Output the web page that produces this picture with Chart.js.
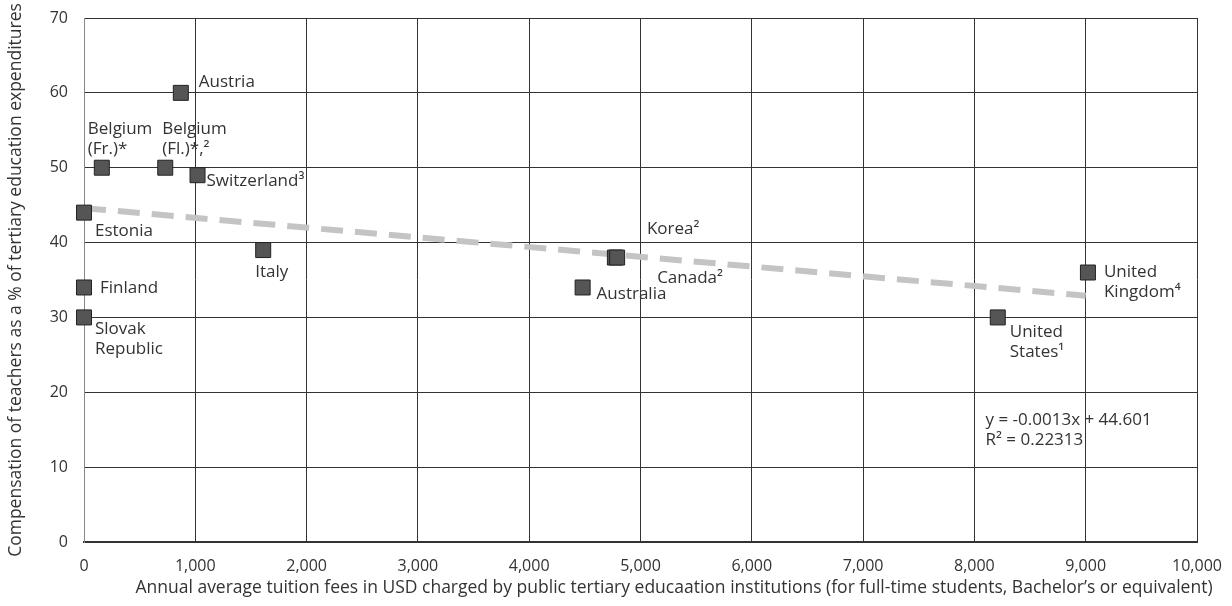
<!DOCTYPE html>
<html>
<head>
<meta charset="utf-8">
<script src="https://cdn.jsdelivr.net/npm/chart.js@4/dist/chart.umd.min.js"></script>
<style>
  html, body { margin: 0; padding: 0; background: #fff; }
  #wrap { width: 1232px; height: 606px; }
</style>
</head>
<body>
<div id="wrap"><canvas id="chart" width="1232" height="606"></canvas></div>
<script>
const FONT = '"Open Sans", Lato, sans-serif';

// data
const countries = [
  'Austria', 'Belgium\n(Fr.)*', 'Belgium\n(Fl.)*,²', 'Switzerland³', 'Estonia', 'Italy',
  'Finland', 'Slovak\nRepublic', 'Korea²', 'Canada²', 'Australia', 'United\nStates¹', 'United\nKingdom⁴',
];
const tuitionFees = [870, 160, 730, 1020, 0, 1610, 0, 0, 4770, 4790, 4480, 8210, 9020];
const teacherShare = [60, 50, 50, 49, 44, 39, 34, 30, 38, 38, 34, 30, 36];

const trendX = [0, 9000];
const trendY = [44.6, 32.9];
const equationLines = ['y = -0.0013x + 44.601', 'R² = 0.22313'];

const xTicks = [0, 1000, 2000, 3000, 4000, 5000, 6000, 7000, 8000, 9000, 10000];
const yTicks = [0, 10, 20, 30, 40, 50, 60, 70];

const xTitle = 'Annual average tuition fees in USD charged by public tertiary educaation institutions (for full-time students, Bachelor’s or equivalent)';

// label placement relative to each marker (px)
const labelOffsets = [
  [18, -11], [-14, -39], [-3, -39], [9, 6], [11, 19], [-8, 22],
  [16, 1], [11, 12], [32, -28], [40, 21], [14, 7], [12, 15], [16, 0],
];

const pointLabels = {
  id: 'pointLabels',
  afterDatasetsDraw(chart) {
    const { ctx } = chart;
    const meta = chart.getDatasetMeta(1);
    ctx.save();
    ctx.font = '17px ' + FONT;
    ctx.fillStyle = '#333';
    ctx.textAlign = 'left';
    ctx.textBaseline = 'middle';
    meta.data.forEach((pt, i) => {
      const [dx, dy] = labelOffsets[i];
      countries[i].split('\n').forEach((line, j) => {
        ctx.fillText(line, pt.x + dx, pt.y + dy + j * 20);
      });
    });
    const x = chart.scales.x.getPixelForValue(8100);
    const y = chart.scales.y.getPixelForValue(16.3);
    equationLines.forEach((line, j) => ctx.fillText(line, x, y + j * 20));

    // x axis title, centred a little right of the plot centre as in the source
    ctx.font = '17.5px ' + FONT;
    ctx.textAlign = 'center';
    ctx.fillText(xTitle, 674, chart.height - 18);
    ctx.restore();
  },
};

new Chart(document.getElementById('chart'), {
  data: {
    datasets: [
      {
        type: 'line',
        data: trendX.map((x, i) => ({ x, y: trendY[i] })),
        borderColor: '#c4c4c4',
        borderWidth: 6,
        borderDash: [22, 12],
        pointRadius: 0,
        order: 2,
      },
      {
        type: 'scatter',
        data: tuitionFees.map((x, i) => ({ x, y: teacherShare[i] })),
        pointStyle: 'rect',
        pointRadius: 10.6,
        backgroundColor: '#555',
        borderColor: '#222',
        borderWidth: 1,
        clip: false,
        order: 1,
      },
    ],
  },
  options: {
    responsive: false,
    animation: false,
    layout: { padding: { top: 18, right: 35, bottom: 0, left: 0 } },
    plugins: { legend: { display: false }, tooltip: { enabled: false } },
    scales: {
      x: {
        type: 'linear',
        min: 0,
        max: 10000,
        afterBuildTicks(scale) { scale.ticks = xTicks.map(value => ({ value })); },
        afterFit(scale) { scale.height = 64; scale.paddingLeft = 0; scale.paddingRight = 0; },
        grid: { color: '#333', drawTicks: false },
        border: { color: '#333', width: 2 },
        ticks: {
          padding: 15,
          color: '#333',
          font: { family: FONT, size: 16 },
          callback: v => v.toLocaleString('en-US'),
        },
      },
      y: {
        type: 'linear',
        min: 0,
        max: 70,
        afterBuildTicks(scale) { scale.ticks = yTicks.map(value => ({ value })); },
        afterFit(scale) { scale.width = 84; scale.paddingTop = 0; scale.paddingBottom = 0; },
        grid: { color: '#333', drawTicks: false },
        border: { color: '#888', width: 1 },
        ticks: {
          padding: 16,
          color: '#333',
          font: { family: FONT, size: 16 },
        },
        title: {
          display: true,
          text: 'Compensation of teachers as a % of tertiary education expenditures',
          color: '#333',
          font: { family: FONT, size: 17.5 },
          padding: { top: 6, bottom: 0 },
        },
      },
    },
  },
  plugins: [pointLabels],
});
</script>
</body>
</html>
